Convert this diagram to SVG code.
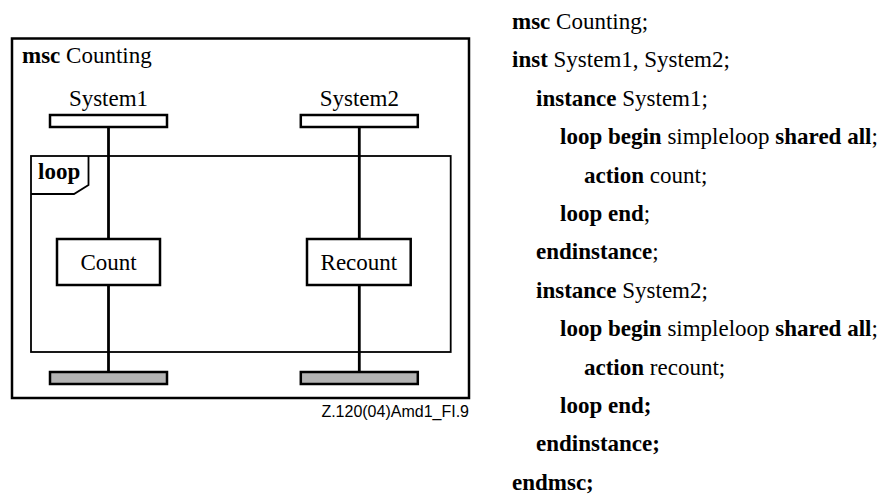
<svg xmlns="http://www.w3.org/2000/svg" width="892" height="494" viewBox="0 0 892 494">
  <!-- MSC frame -->
  <g id="msc-frame">
    <rect x="12" y="38.5" width="457" height="359.5" fill="none" stroke="#000" stroke-width="2.5"/>
    <text style="font-family:'Times New Roman','Liberation Serif',serif;font-size:23px" x="22" y="63"><tspan font-weight="bold">msc</tspan> Counting</text>
  </g>

  <!-- Lifelines -->
  <g id="connectors" stroke="#000" stroke-width="2.8" fill="none">
    <line x1="108.5" y1="127" x2="108.5" y2="239"/>
    <line x1="108.5" y1="285" x2="108.5" y2="372"/>
    <line x1="359.3" y1="127" x2="359.3" y2="239"/>
    <line x1="359.3" y1="285" x2="359.3" y2="372"/>
  </g>

  <!-- Loop inline expression -->
  <g id="loop">
    <g fill="none" stroke="#000" stroke-width="1.8">
      <rect x="31" y="156" width="419.7" height="196"/>
      <path d="M88.5,156 L88.5,185 L74,194 L31,194"/>
    </g>
    <text style="font-family:'Times New Roman','Liberation Serif',serif;font-size:23px;font-weight:bold" x="38" y="179">loop</text>
  </g>

  <!-- Instance System1 -->
  <g id="system1">
    <text style="font-family:'Times New Roman','Liberation Serif',serif;font-size:23px" text-anchor="middle" x="108.5" y="105.5">System1</text>
    <g stroke="#000" stroke-width="2.5">
      <rect x="50" y="115" width="117" height="12" fill="#fff"/>
      <rect x="50" y="372" width="117" height="12" fill="#b3b3b3"/>
    </g>
  </g>

  <!-- Instance System2 -->
  <g id="system2">
    <text style="font-family:'Times New Roman','Liberation Serif',serif;font-size:23px" text-anchor="middle" x="359.3" y="105.5">System2</text>
    <g stroke="#000" stroke-width="2.5">
      <rect x="300.8" y="115" width="117" height="12" fill="#fff"/>
      <rect x="300.8" y="372" width="117" height="12" fill="#b3b3b3"/>
    </g>
  </g>

  <!-- Actions -->
  <g id="count">
    <rect x="57" y="239" width="103" height="46" fill="#fff" stroke="#000" stroke-width="2.5"/>
    <text style="font-family:'Times New Roman','Liberation Serif',serif;font-size:23px" text-anchor="middle" x="108.5" y="270">Count</text>
  </g>
  <g id="recount">
    <rect x="307" y="239" width="103.7" height="46" fill="#fff" stroke="#000" stroke-width="2.5"/>
    <text style="font-family:'Times New Roman','Liberation Serif',serif;font-size:23px" text-anchor="middle" x="358.9" y="270">Recount</text>
  </g>

  <text style="font-family:'Liberation Sans',Arial,sans-serif;font-size:16px" text-anchor="end" x="469" y="417">Z.120(04)Amd1_FI.9</text>

  <!-- Textual form -->
  <g id="textual" style="font-family:'Times New Roman','Liberation Serif',serif;font-size:23px">
    <text x="512" y="29"><tspan font-weight="bold">msc</tspan> Counting;</text>
    <text x="512" y="67.4"><tspan font-weight="bold">inst</tspan> System1, System2;</text>
    <text x="536" y="105.8"><tspan font-weight="bold">instance</tspan> System1;</text>
    <text x="560" y="144.2"><tspan font-weight="bold">loop begin</tspan> simpleloop <tspan font-weight="bold">shared all</tspan>;</text>
    <text x="584" y="182.6"><tspan font-weight="bold">action</tspan> count;</text>
    <text x="560" y="221"><tspan font-weight="bold">loop end</tspan>;</text>
    <text x="536" y="259.4"><tspan font-weight="bold">endinstance</tspan>;</text>
    <text x="536" y="297.8"><tspan font-weight="bold">instance</tspan> System2;</text>
    <text x="560" y="336.2"><tspan font-weight="bold">loop begin</tspan> simpleloop <tspan font-weight="bold">shared all</tspan>;</text>
    <text x="584" y="374.6"><tspan font-weight="bold">action</tspan> recount;</text>
    <text font-weight="bold" x="560" y="413">loop end;</text>
    <text font-weight="bold" x="536" y="451.4">endinstance;</text>
    <text font-weight="bold" x="512" y="489.8">endmsc;</text>
  </g>
</svg>
